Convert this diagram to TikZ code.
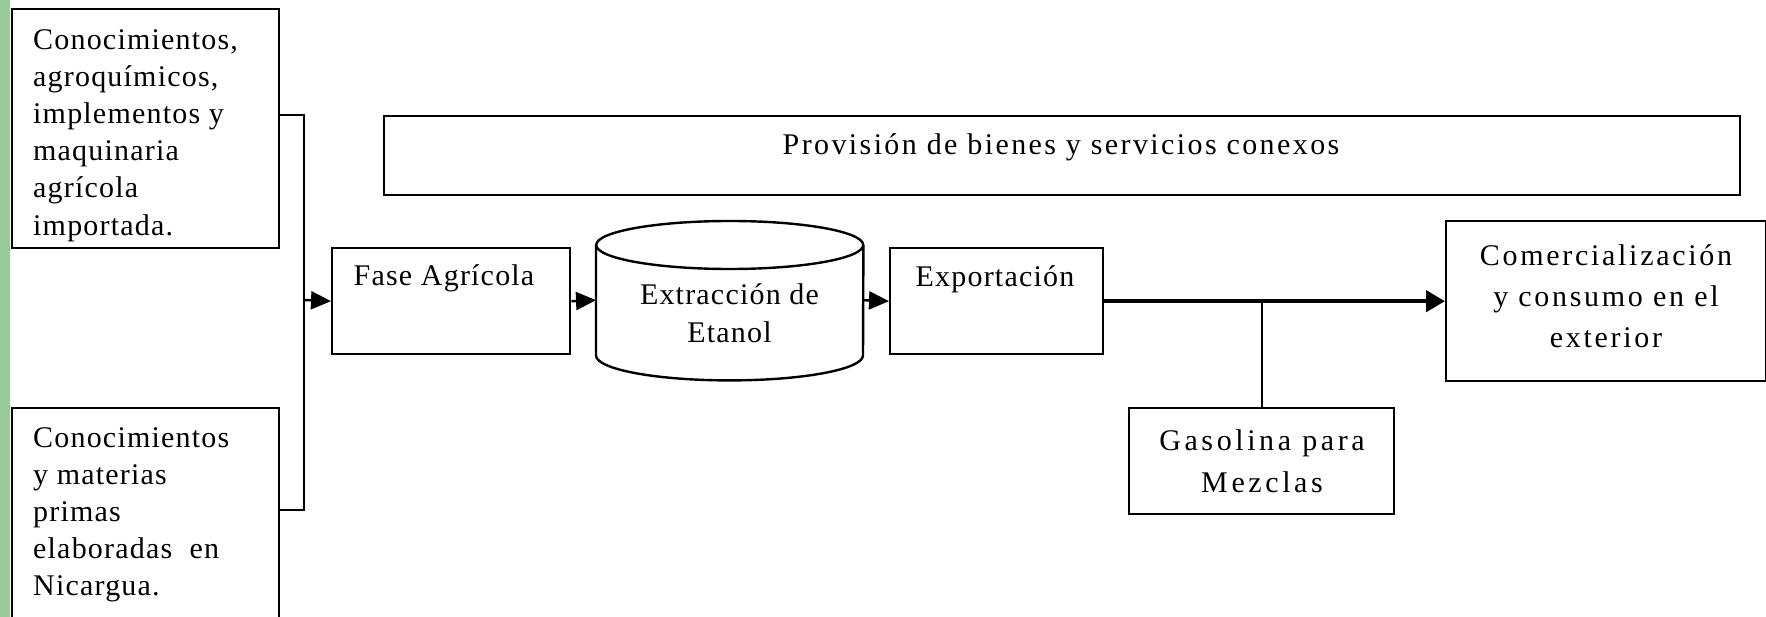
\documentclass[tikz,border=0pt]{standalone}
\usepackage{fontspec}
\setmainfont{Liberation Serif}[LetterSpace=4]
\newfontfamily\widefont{Liberation Serif}[LetterSpace=8]
\newfontfamily\widerfont{Liberation Serif}[LetterSpace=9]
\newfontfamily\widestfont{Liberation Serif}[LetterSpace=12]
\usetikzlibrary{arrows.meta}
\definecolor{stripgreen}{RGB}{153,204,153}
\begin{document}
\begin{tikzpicture}[x=1pt,y=-1pt,
  box/.style={draw, line width=2.4pt, rectangle, inner sep=0pt, anchor=north west},
  txt/.style={font=\fontsize{30}{37}\selectfont, inner sep=0pt},
  arr/.style={line width=2.4pt, -{Triangle[length=20pt,width=18pt]}},
  conn/.style={line width=2.4pt},
  thick conn/.style={line width=4.5pt, -{Triangle[length=19pt,width=21pt]}},
]
\useasboundingbox (0,0) rectangle (1766,617);
\fill[stripgreen] (0,0) rectangle (10,617);

% source boxes
\node[box, minimum width=267pt, minimum height=239pt] (srcA) at (11,8) {};
\node[txt, align=left, anchor=north west, font=\fontsize{30}{37.2}\selectfont] (srcAt) at (33,29)
  {Conocimientos,\\agroquímicos,\\implementos y\\maquinaria\\agrícola\\importada.};
\node[box, minimum width=267pt, minimum height=240pt] (srcB) at (11,407) {};
\node[txt, align=left, anchor=north west, font=\fontsize{30}{37.2}\selectfont] (srcBt) at (33,427)
  {Conocimientos\\y materias\\primas\\elaboradas\ \ en\\Nicargua.};

% top band
\node[box, minimum width=1356pt, minimum height=79pt] (prov) at (383,115) {};
\node[txt, font=\widefont\fontsize{30}{37}\selectfont] (provt) at (1061,147) {Provisión de bienes y servicios conexos};

% chain
\node[box, minimum width=238pt, minimum height=106pt] (fase) at (331,247) {};
\node[txt] (faset) at (444,278) {Fase Agrícola};

\node[minimum width=267pt, minimum height=110pt, inner sep=0pt, anchor=north west] (cyl) at (596,245) {};
\draw[conn] (cyl.north west) -- (cyl.south west)
  arc[start angle=180, end angle=360, x radius=133.5pt, y radius=25pt] -- (cyl.north east);
\draw[conn] (cyl.north) ellipse[x radius=133.5pt, y radius=24pt];
\node[txt, align=center, font=\fontsize{30}{38}\selectfont] (cylt) at (729.5,313) {Extracción de\\Etanol};

\node[box, minimum width=213pt, minimum height=106pt] (exp) at (889,247) {};
\node[txt] (expt) at (995,279) {Exportación};

\node[box, minimum width=320pt, minimum height=160pt] (com) at (1445,220) {};
\node[txt, align=center, font=\widerfont\fontsize{30}{41}\selectfont] (comt) at (1606,296)
  {Comercialización\\y consumo en el\\exterior};

\node[box, minimum width=265pt, minimum height=106pt] (gas) at (1128,407) {};
\node[txt, align=center, font=\widestfont\fontsize{30}{42}\selectfont] (gast) at (1262,461) {Gasolina para\\Mezclas};

% connectors
\coordinate (ja) at (304,115);
\coordinate (jb) at (304,510);
\coordinate (jm) at (304,300);
\draw[conn] (srcA.east |- ja) -- (ja) -- (jb) -- (srcB.east |- jb);
\draw[arr] (jm) -- (fase.west);
\draw[arr] (fase.east) -- (cyl.west);
\draw[arr] (cyl.east) -- (exp.west);
\draw[thick conn] (exp.east) -- (com.west);
\draw[conn] (gas.north) -- (gas.north |- exp.east);
\end{tikzpicture}
\end{document}
